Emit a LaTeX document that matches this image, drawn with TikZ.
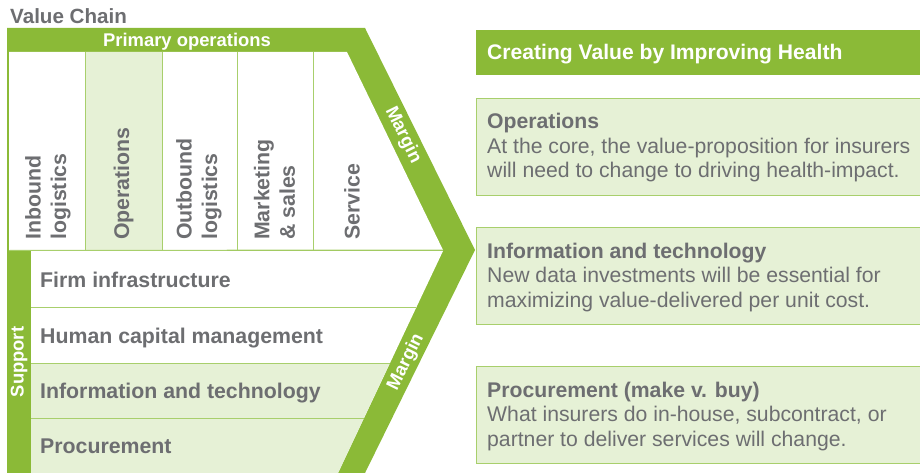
\documentclass[tikz,border=0pt]{standalone}
\usepackage{fontspec}
\setmainfont{Liberation Sans}
\usetikzlibrary{positioning, calc}
\definecolor{vcgreen}{RGB}{139,186,55}
\definecolor{vclight}{RGB}{230,241,214}
\definecolor{vcline}{RGB}{168,207,108}
\definecolor{vcgray}{RGB}{109,110,113}
\tikzset{
  big/.style={font=\fontsize{21.3}{25.5}\selectfont\bfseries, text=vcgray, inner sep=0pt},
  band/.style={font=\fontsize{18.4}{22}\selectfont\bfseries, text=white, inner sep=0pt},
  col/.style={big, rotate=90, anchor=west, align=left},
  row/.style={big, anchor=base west},
  card/.style={draw=vcline, fill=vclight, line width=1pt, inner sep=0pt, anchor=north west,
    minimum width=446pt, minimum height=97pt},
  cardtext/.style={font=\fontsize{21.2}{24.5}\selectfont, text=vcgray, inner sep=0pt,
    anchor=base west, align=left},
  sep/.style={draw=vcline, line width=1pt}
}

\begin{document}
\begin{tikzpicture}[x=1pt, y=1pt]
    \useasboundingbox (0,0) rectangle (920,-473);

    % value chain chevron
    \coordinate (notch) at (443,-250);
    \fill[vcgreen] (7,-28) -- (365,-28) -- (475,-250) -- (365,-473) -- (7,-473) -- cycle;
    \fill[white] (9,-52) -- (347,-52) -- (notch) -- (9,-250) -- cycle;
    \fill[vclight] (85,-52) rectangle (162,-250);
    \foreach \x in {85,162,237,313}
        \draw[sep] (\x,-52) -- (\x,-250);
    \fill[white] (31,-251) -- (443,-251) -- (338,-473) -- (31,-473) -- cycle;
    \fill[vclight] (31,-363) -- (389.8,-363) -- (338,-473) -- (31,-473) -- cycle;
    \draw[sep] (9,-250.5) -- (notch);
    \foreach \y/\x in {307/416.2, 363/389.8, 418/363.9}
        \draw[sep] (31,-\y) -- (\x,-\y);

    \node[big, anchor=base west, font=\fontsize{20.6}{24}\selectfont\bfseries] (vc) at (10,-24) {Value Chain};
    \node[band, anchor=base] (primary) at (187,-47) {Primary operations};

    \node[col] (inbound) at (48,-240) {Inbound\\logistics};
    \node[col] (ops) at (123.5,-240) {Operations};
    \node[col] (outbound) at (199,-240) {Outbound\\logistics};
    \node[col] (marketing) at (274.5,-240) {Marketing\\\& sales};
    \node[col] (service) at (352,-240) {Service};

    \node[band, rotate=-63.7] (margintop) at (403,-135) {Margin};
    \node[band, rotate=63.7] (marginbot) at (406,-362) {Margin};
    \node[band, rotate=90] (support) at (19,-362) {Support};

    \node[row] (firm) at (40,-287) {Firm infrastructure};
    \node[row] (human) at (40,-343) {Human capital management};
    \node[row] (info) at (40,-398) {Information and technology};
    \node[row] (procure) at (40,-453) {Procurement};

    % right-hand cards (base = last line)
    \node[fill=vcgreen, inner sep=0pt, anchor=north west, minimum width=446pt, minimum height=45pt] (cvbar) at (476,-30) {};
    \node[band, anchor=base west, font=\fontsize{21.1}{24}\selectfont\bfseries] (cvtitle) at (487,-60) {Creating Value by Improving Health};

    \node[card] (opscard) at (476,-98) {};
    \node[cardtext] (opstext) at (487,-178) {\textbf{Operations}\\At the core, the value-proposition for insurers\\will need to change to driving health-impact.};

    \node[card] (infocard) at (476,-227) {};
    \node[cardtext] (infotext) at (487,-307) {\textbf{Information and technology}\\New data investments will be essential for\\maximizing value-delivered per unit cost.};

    \node[card] (procard) at (476,-366) {};
    \node[cardtext] (protext) at (487,-446) {\textbf{Procurement (make v. buy)}\\What insurers do in-house, subcontract, or\\partner to deliver services will change.};
\end{tikzpicture}
\end{document}
